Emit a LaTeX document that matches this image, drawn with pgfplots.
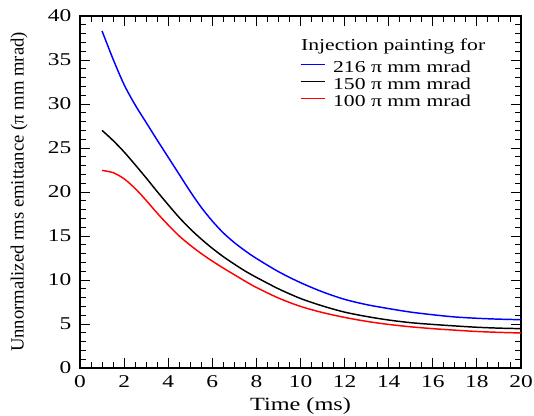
\documentclass[border=0pt]{standalone}
\usepackage{fontspec}
\setmainfont{Liberation Serif}[FakeStretch=1.3]
\newfontfamily\plainserif{Liberation Serif}
\usepackage{pgfplots}
\pgfplotsset{compat=1.18}

\begin{document}
\begin{tikzpicture}
\begin{axis}[
    name=ax,
    scale only axis,
    width=330.75pt, height=264pt,
    xmin=0, xmax=20, ymin=0, ymax=40,
    xtick={0,2,...,20}, ytick={0,5,...,40},
    minor x tick num=3, minor y tick num=4,
    tick align=inside, tick pos=both,
    xticklabel pos=left, yticklabel pos=left,
    major tick length=7.5pt, minor tick length=4.2pt,
    every tick/.style={black, line width=0.7pt},
    axis line style={line width=1.1pt},
    /pgf/number format/assume math mode=true,
    ticklabel style={font=\fontsize{13.5}{15}\selectfont},
    xticklabel style={anchor=base, yshift=-15pt},
    yticklabel style={xshift=-3pt},
    xlabel={Time (ms)},
    ylabel={Unnormalized rms emittance (π mm mrad)},
    every axis x label/.style={at={(axis description cs:0.5,0)}, anchor=base,
        yshift=-32pt, font=\fontsize{14}{16}\selectfont},
    every axis y label/.style={at={(axis description cs:-0.138,0.5)}, anchor=center,
        rotate=90, font=\plainserif\fontsize{14}{16}\selectfont},
    legend style={draw=none, fill=none, at={(0.499,0.9355)}, anchor=north west,
        font=\fontsize{12.5}{13}\selectfont, inner sep=0pt, row sep=0pt, column sep=6pt,
        nodes={inner sep=0pt, text height=9pt, text depth=3.5pt}},
    legend cell align=left,
    legend image code/.code={\draw[#1, line width=0.6pt] (0pt,3.3pt) -- (18pt,3.3pt);},
]
\addlegendimage{empty legend}
\addlegendentry[text depth=7.3pt]{\hspace{-24pt}Injection painting for}
\addplot[blue, line width=1.1pt, smooth] coordinates {
(1.0,38.3)(1.5,35.1)(2.0,32.2)(2.5,29.9)(3.0,27.9)(3.5,25.9)(4.0,23.95)(4.5,22.0)
(5.0,20.05)(5.5,18.25)(6.0,16.7)(6.5,15.35)(7.0,14.25)(7.5,13.3)(8.0,12.45)
(9.0,10.95)(10.0,9.7)(11.0,8.65)(12.0,7.8)(13.0,7.2)(14.0,6.75)(15.0,6.35)
(16.0,6.05)(17.0,5.8)(18.0,5.65)(19.0,5.55)(20.0,5.49)};
\addlegendentry{216 π mm mrad}
\addplot[black, line width=1.1pt, smooth] coordinates {
(1.0,27.0)(1.5,25.85)(2.0,24.55)(2.5,23.1)(3.0,21.6)(3.5,20.05)(4.0,18.55)(4.5,17.1)
(5.0,15.8)(5.5,14.65)(6.0,13.6)(6.5,12.65)(7.0,11.8)(7.5,11.0)(8.0,10.3)
(9.0,9.0)(10.0,7.9)(11.0,7.05)(12.0,6.35)(13.0,5.85)(14.0,5.45)(15.0,5.15)
(16.0,4.95)(17.0,4.78)(18.0,4.63)(19.0,4.53)(20.0,4.47)};
\addlegendentry{150 π mm mrad}
\addplot[red, line width=1.1pt, smooth] coordinates {
(1.0,22.45)(1.5,22.2)(2.0,21.5)(2.5,20.4)(3.0,19.05)(3.5,17.6)(4.0,16.25)(4.5,15.0)
(5.0,13.95)(5.5,13.0)(6.0,12.15)(6.5,11.35)(7.0,10.6)(7.5,9.85)(8.0,9.15)
(9.0,7.95)(10.0,7.0)(11.0,6.3)(12.0,5.75)(13.0,5.3)(14.0,4.95)(15.0,4.68)
(16.0,4.47)(17.0,4.3)(18.0,4.15)(19.0,4.05)(20.0,3.98)};
\addlegendentry{100 π mm mrad}
\end{axis}
\pgfresetboundingbox
\useasboundingbox ([shift={(-60pt,-36pt)}]ax.south west) rectangle ([shift={(9.75pt,12pt)}]ax.north east);
\end{tikzpicture}
\end{document}
